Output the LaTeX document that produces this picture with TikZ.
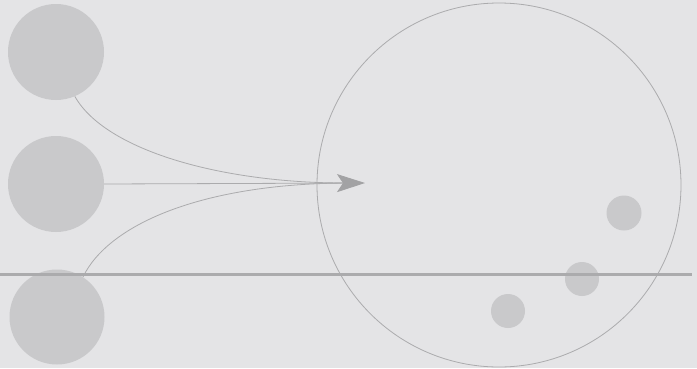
\documentclass[tikz,border=0pt]{standalone}
\usetikzlibrary{arrows.meta}
\definecolor{bgc}{HTML}{E4E4E6}
\definecolor{discc}{HTML}{C9C9CB}
\definecolor{lnc}{HTML}{ABABAD}
\definecolor{hlc}{HTML}{ABABAD}
\definecolor{arrc}{HTML}{A2A2A4}
\begin{document}
\begin{tikzpicture}[x=1pt,y=-1pt,
  disc/.style={circle, fill=discc, inner sep=0pt, minimum size=#1},
  conn/.style={draw=lnc, line width=0.8pt},
  ring/.style={circle, draw=lnc, line width=0.8pt, inner sep=0pt, minimum size=#1},
  floor/.style={draw=hlc, line width=2.6pt}]
\fill[bgc] (0,0) rectangle (697,368);
\useasboundingbox (0,0) rectangle (697,368);
% left discs
\node[disc=96pt] (c1) at (56,52) {};
\node[disc=96pt] (c2) at (56,184) {};
\node[disc=95pt] (c3) at (57,317) {};
% large ring
\node[ring=364pt] (big) at (499,185) {};
% small discs
\node[disc=35pt] (s1) at (624,213) {};
\node[disc=34pt] (s2) at (582,279) {};
\node[disc=34pt] (s3) at (508,311) {};
% horizontal line
\coordinate (h0) at (0,274.5);
\coordinate (h1) at (692,274.5);
\draw[floor] (h0) -- (h1);
% connectors
\coordinate (join) at (345,183);
\coordinate (tip) at (365,183);
\draw[conn] (c1.-67) .. controls (105,150) and (220,183) .. (join);
\draw[conn] (c3.57) .. controls (108,225) and (200,184) .. (join);
\draw[conn, -{Stealth[length=28pt, width=18pt, inset=6pt, color=arrc]}] (c2.east) -- (tip);
\end{tikzpicture}
\end{document}
